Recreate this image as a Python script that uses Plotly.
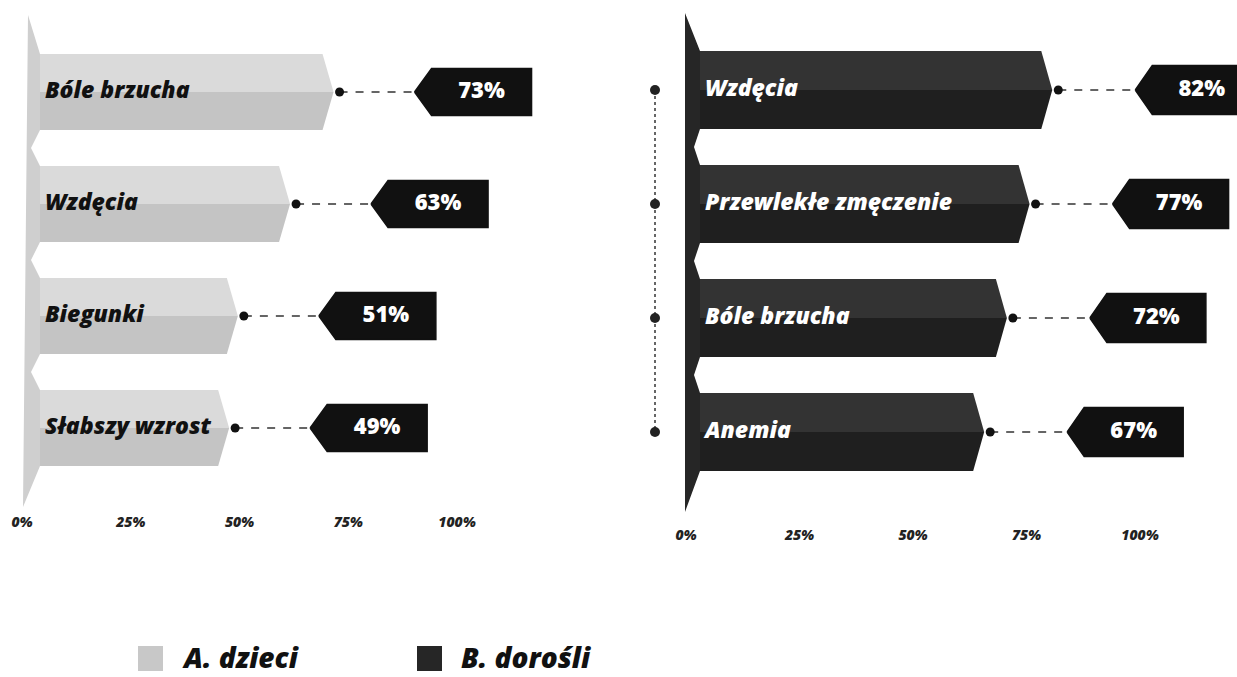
import plotly.graph_objects as go

# ---------------- data ----------------
children_labels = ["Bóle brzucha", "Wzdęcia", "Biegunki", "Słabszy wzrost"]
children_values = [73, 63, 51, 49]
adults_labels = ["Wzdęcia", "Przewlekłe zmęczenie", "Bóle brzucha", "Anemia"]
adults_values = [82, 77, 72, 67]
tick_values = [0, 25, 50, 75, 100]
tick_labels = ["0%", "25%", "50%", "75%", "100%"]
series_names = ["A. dzieci", "B. dorośli"]

# ---------------- layout constants (pixels) ----------------
W, H = 1237, 677
FONT = "Open Sans"

panels = [
    dict(labels=children_labels, values=children_values, xa="x", ya="y",
         px0=22, ppu=4.35, row0=92, rowstep=112, dom=[0.0, 0.5],
         bar_left=40, wall_left_top=28, wall_left_bot=23, wall_top=15, wall_bot=507,
         notch=9, bar_h=76, up="#dadada", lo="#c4c4c4", wall="#cfcfcf",
         text_col="#111111", label_px=45, tag_off=75, tag_w=117, tag_h=47,
         axis_py=512),
    dict(labels=adults_labels, values=adults_values, xa="x2", ya="y2",
         px0=686, ppu=4.54, row0=90, rowstep=114, dom=[0.5, 1.0],
         bar_left=700, wall_left_top=685, wall_left_bot=685, wall_top=13, wall_bot=512,
         notch=6, bar_h=78, up="#333333", lo="#1f1f1f", wall="#262626",
         text_col="#ffffff", label_px=705, tag_off=77, tag_w=116, tag_h=49,
         axis_py=525),
]

fig = go.Figure()

for p in panels:
    ppu, px0, rs = p["ppu"], p["px0"], p["rowstep"]
    u = lambda px: (px - px0) / ppu          # pixel -> value units
    du = lambda d: d / ppu                   # pixel length -> value units
    dr = lambda d: d / rs                    # pixel height -> row units
    n = len(p["values"])
    hb = dr(p["bar_h"]) / 2
    xs_start = u(p["bar_left"])

    # wall (left vertical prism with notches between bars)
    wx = [u(p["wall_left_top"]), xs_start]
    wy = [dr(p["wall_top"] - p["row0"]), -hb]
    for i in range(n):
        wx += [xs_start, xs_start]
        wy += [i - hb, i + hb]
        if i < n - 1:
            wx += [xs_start - du(p["notch"])]
            wy += [i + 0.5]
    wx += [u(p["wall_left_bot"]), u(p["wall_left_top"])]
    wy += [dr(p["wall_bot"] - p["row0"]), dr(p["wall_top"] - p["row0"])]
    fig.add_trace(go.Scatter(x=wx, y=wy, xaxis=p["xa"], yaxis=p["ya"], mode="lines",
                             fill="toself", fillcolor=p["wall"], line=dict(width=0),
                             hoverinfo="skip", showlegend=False))

    gap, tip = du(6), du(11)
    for i, v in enumerate(p["values"]):
        flat = v - gap - tip
        # upper half
        fig.add_trace(go.Scatter(
            x=[xs_start, flat, v - gap, xs_start, xs_start],
            y=[i - hb, i - hb, i, i, i - hb],
            xaxis=p["xa"], yaxis=p["ya"], mode="lines", fill="toself",
            fillcolor=p["up"], line=dict(width=0), hoverinfo="skip", showlegend=False))
        # lower half
        fig.add_trace(go.Scatter(
            x=[xs_start, v - gap, flat, xs_start, xs_start],
            y=[i, i, i + hb, i + hb, i],
            xaxis=p["xa"], yaxis=p["ya"], mode="lines", fill="toself",
            fillcolor=p["lo"], line=dict(width=0), hoverinfo="skip", showlegend=False))

        # tag
        t0 = v + du(p["tag_off"])
        tt = t0 + du(17)
        te = t0 + du(p["tag_w"])
        th = dr(p["tag_h"]) / 2
        fig.add_trace(go.Scatter(
            x=[t0, tt, te, te, tt, t0], y=[i, i - th, i - th, i + th, i + th, i],
            xaxis=p["xa"], yaxis=p["ya"], mode="lines", fill="toself",
            fillcolor="#111111", line=dict(width=1.5, color="#111111"),
            hoverinfo="skip", showlegend=False))
        # dashed connector
        fig.add_trace(go.Scatter(
            x=[v, t0], y=[i, i], xaxis=p["xa"], yaxis=p["ya"], mode="lines",
            line=dict(color="#333333", width=1.6, dash="8px,8px"),
            hoverinfo="skip", showlegend=False))
        # dot
        fig.add_trace(go.Scatter(
            x=[v], y=[i], xaxis=p["xa"], yaxis=p["ya"], mode="markers",
            marker=dict(size=9, color="#111111"), hoverinfo="skip", showlegend=False))
        # tag text
        fig.add_trace(go.Scatter(
            x=[(tt + te) / 2], y=[i], xaxis=p["xa"], yaxis=p["ya"], mode="text",
            text=[f"{v}%"], textposition="middle center",
            textfont=dict(family=FONT, size=22, color="#ffffff", weight=800),
            hoverinfo="skip", showlegend=False))

    # category labels
    fig.add_trace(go.Scatter(
        x=[u(p["label_px"])] * n, y=list(range(n)), xaxis=p["xa"], yaxis=p["ya"],
        mode="text", text=p["labels"], textposition="middle right",
        textfont=dict(family=FONT, size=23, color=p["text_col"], weight=800,
                      style="italic"),
        hoverinfo="skip", showlegend=False))

# dotted vertical connector on the right panel
pr = panels[1]
xd = (655 - pr["px0"]) / pr["ppu"]
fig.add_trace(go.Scatter(
    x=[xd] * len(adults_values), y=list(range(len(adults_values))), xaxis="x2", yaxis="y2",
    mode="lines+markers", line=dict(color="#333333", width=1.5, dash="dot"),
    marker=dict(size=10, color="#222222"), hoverinfo="skip", showlegend=False))


def xrange_for(p):
    a = p["dom"][0] * W
    b = p["dom"][1] * W
    return [(a - p["px0"]) / p["ppu"], (b - p["px0"]) / p["ppu"]]


def yrange_for(p):
    return [(H - p["row0"]) / p["rowstep"], (0 - p["row0"]) / p["rowstep"]]


tickfont = dict(family=FONT, size=14, color="#222222", weight=800, style="italic")
axis_common = dict(showgrid=False, zeroline=False, showline=False, ticks="",
                   tickvals=tick_values, ticktext=tick_labels, tickfont=tickfont,
                   fixedrange=True, anchor="free")

fig.update_layout(
    width=W, height=H, margin=dict(l=0, r=0, t=0, b=0),
    paper_bgcolor="#ffffff", plot_bgcolor="rgba(0,0,0,0)",
    showlegend=False,
    xaxis=dict(domain=panels[0]["dom"], range=xrange_for(panels[0]),
               position=1 - panels[0]["axis_py"] / H, **axis_common),
    xaxis2=dict(domain=panels[1]["dom"], range=xrange_for(panels[1]),
                position=1 - panels[1]["axis_py"] / H, **axis_common),
    yaxis=dict(domain=[0, 1], range=yrange_for(panels[0]), visible=False, anchor="x"),
    yaxis2=dict(domain=[0, 1], range=yrange_for(panels[1]), visible=False, anchor="x2"),
)

# legend (drawn as shapes + text)
legend_items = [(138, series_names[0], "#c8c8c8"), (417, series_names[1], "#262626")]
for px, name, col in legend_items:
    fig.add_shape(type="rect", xref="paper", yref="paper",
                  x0=px / W, x1=(px + 25) / W, y0=1 - 671 / H, y1=1 - 646 / H,
                  fillcolor=col, line=dict(width=0))
    fig.add_annotation(x=(px + 42) / W, y=1 - 657 / H, xref="paper", yref="paper",
                       text=name, showarrow=False, xanchor="left", yanchor="middle",
                       font=dict(family=FONT, size=28, color="#111111", weight=800,
                                 style="italic"))

fig.write_html("out.html")
